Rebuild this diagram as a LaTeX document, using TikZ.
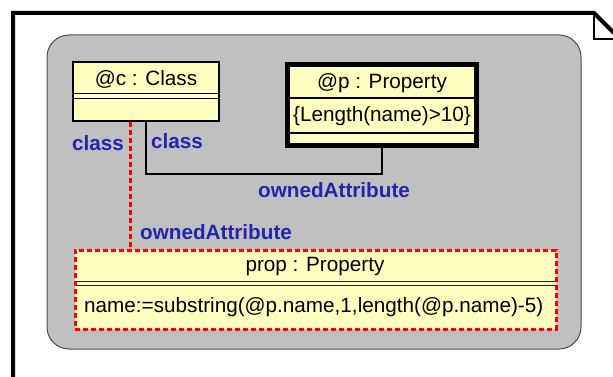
\documentclass[tikz,border=0pt]{standalone}
\usepackage{fontspec}
\setmainfont{Liberation Sans}
\usetikzlibrary{calc}
\definecolor{notegray}{RGB}{192,192,192}
\definecolor{boxyellow}{RGB}{255,255,192}
\definecolor{rolblue}{RGB}{36,36,176}
\definecolor{sepline}{RGB}{40,40,20}
\tikzset{
  objbox/.style={draw=black, fill=boxyellow, rectangle, inner sep=0pt},
  objtext/.style={inner sep=0pt, font=\fontsize{20.7}{23}\selectfont},
  rolelabel/.style={inner sep=0pt, text=rolblue, font=\fontsize{20.7}{23}\selectfont\bfseries},
  newdotted/.style={draw=red, line width=3pt, dash pattern=on 5pt off 3pt},
  linkline/.style={draw=black, line width=1.6pt},
}
\begin{document}
\begin{tikzpicture}[x=1pt,y=-1pt]
\useasboundingbox (0,0) rectangle (613,377);
% note frame with folded corner
\draw[line width=4pt, line join=miter] (13,380) -- (13,13) -- (594,13) -- (615,34);
\draw[line width=1.2pt] (594,13) -- (594,39) -- (615,39);
% package area
\draw[draw=black!70, fill=notegray, line width=1pt, rounded corners=22pt] (47,35) rectangle (581,349);

% @c : Class
\node[objbox, line width=1.5pt, minimum width=146pt, minimum height=59pt] (cls) at (146,91.5) {};
\draw[line width=1.3pt] ($(cls.north west)+(0,32)$) -- ($(cls.north east)+(0,32)$);
\draw[line width=1.3pt] ($(cls.north west)+(0,37)$) -- ($(cls.north east)+(0,37)$);
\node[objtext] (clsname) at (146,79) {@c : Class};

% @p : Property
\node[objbox, line width=5pt, minimum width=189pt, minimum height=81pt] (prp) at (382,105) {};
\draw[line width=1.2pt] (285,98) -- (479,98);
\draw[line width=1.2pt] (285,133) -- (479,133);
\node[objtext] (prpname) at (382,83) {@p : Property};
\node[objtext] (prpcons) at (382,116) {\{Length(name)>10\}};

% prop : Property (created)
\node[objbox, newdotted, minimum width=481pt, minimum height=79pt] (newprop) at (315.5,289.5) {};
\draw[sepline, line width=1.3pt] ($(newprop.north west)+(2,33)$) -- ($(newprop.north east)+(-2,33)$);
\draw[sepline, line width=1.3pt] ($(newprop.north west)+(2,37)$) -- ($(newprop.north east)+(-2,37)$);
\node[objtext] (newname) at (315,267) {prop : Property};
\node[objtext, anchor=west] (newassign) at (84,307) {name:=substring(@p.name,1,length(@p.name)-5)};

% existing link @c -- @p
\draw[linkline] (cls.south) -- ++(0,52) -| (prp.south);
% new link @c -- prop
\coordinate (rd) at ($(cls.south west)+(58,0)$);
\draw[newdotted] (rd) -- (rd |- newprop.north);

% role names
\node[rolelabel] (r1) at (98,143) {class};
\node[rolelabel] (r2) at (177,141) {class};
\node[rolelabel] (r3) at (334,190) {ownedAttribute};
\node[rolelabel] (r4) at (216,232) {ownedAttribute};
\end{tikzpicture}
\end{document}
